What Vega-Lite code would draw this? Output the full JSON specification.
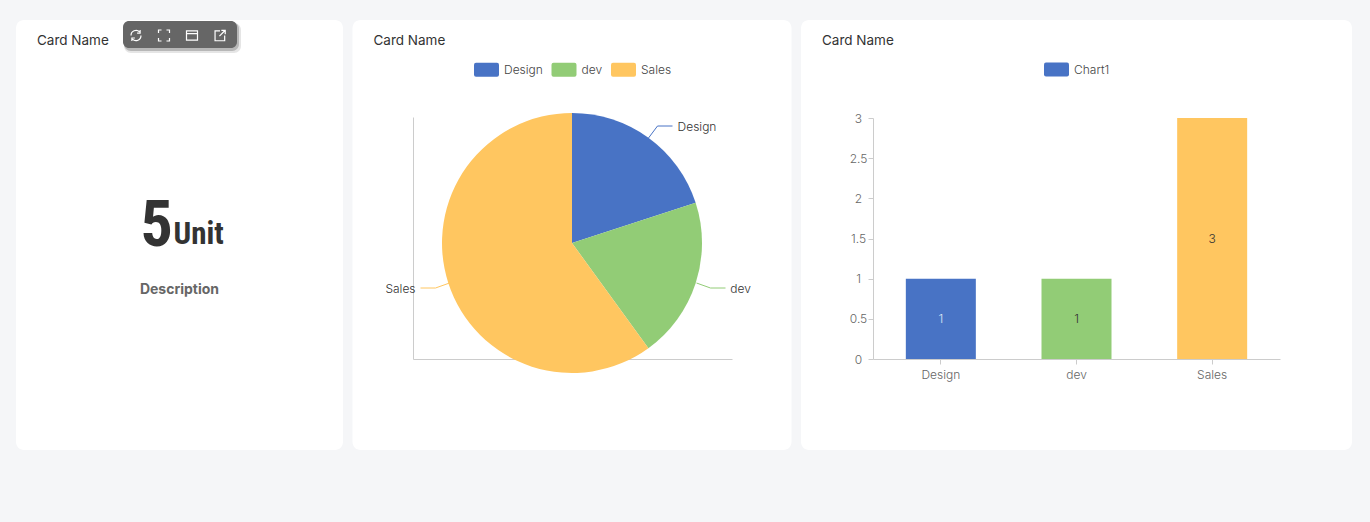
{
  "$schema": "https://vega.github.io/schema/vega-lite/v6.json",
  "description": "Dashboard of three cards: a unit count, a pie and a bar chart of the same teams.",
  "background": "#f5f6f8",
  "padding": {"left": 16, "top": 20, "right": 18, "bottom": 72},
  "spacing": 9.5,
  "resolve": {"scale": {"color": "independent"}, "legend": {"color": "independent"}},
  "config": {
    "view": {"fill": "white", "stroke": null, "cornerRadius": 8},
    "font": "Inter",
    "title": {"font": "Inter", "fontSize": 13.5, "fontWeight": "normal", "color": "#333333", "anchor": "start", "dx": 21, "dy": 31.5},
    "legend": {"labelFont": "Inter", "labelFontSize": 12, "labelColor": "#444444", "labelFontWeight": 300}
  },
  "datasets": {
    "teams": [
      {"team": "Design", "count": 1, "rank": 1},
      {"team": "dev", "count": 1, "rank": 2},
      {"team": "Sales", "count": 3, "rank": 3}
    ],
    "leaders": [
      {"team": "Design", "across": 235.5, "up": 221},
      {"team": "Design", "across": 244.5, "up": 233},
      {"team": "Design", "across": 259.5, "up": 233},
      {"team": "dev", "across": 283.5, "up": 76},
      {"team": "dev", "across": 297.5, "up": 71},
      {"team": "dev", "across": 312.5, "up": 71},
      {"team": "Sales", "across": 7.5, "up": 71},
      {"team": "Sales", "across": 22.5, "up": 71},
      {"team": "Sales", "across": 36.5, "up": 76}
    ],
    "leaderLabels": [
      {"team": "Design", "across": 284, "up": 232},
      {"team": "dev", "across": 327.5, "up": 70},
      {"team": "Sales", "across": -12.5, "up": 70}
    ],
    "tools": [
      {"tool": "refresh"},
      {"tool": "fullscreen"},
      {"tool": "window"},
      {"tool": "open"}
    ]
  },
  "hconcat": [
    {
      "title": "Card Name",
      "width": 327,
      "height": 430,
      "resolve": {"scale": {"x": "independent", "y": "independent"}},
      "layer": [
        {
          "data": {"values": [{"total": 5, "unit": "Unit", "description": "Description"}]},
          "layer": [
            {
              "mark": {"type": "text", "font": "Roboto Condensed, DejaVu Sans Condensed, Roboto, sans-serif", "fontWeight": "bold", "fontSize": 64, "color": "#333333", "align": "left", "dx": -39, "dy": 11, "baseline": "alphabetic"},
              "encoding": {"text": {"field": "total", "type": "quantitative"}}
            },
            {
              "mark": {"type": "text", "font": "Roboto Condensed, DejaVu Sans Condensed, Roboto, sans-serif", "fontWeight": "bold", "fontSize": 31, "color": "#333333", "align": "left", "dx": -6, "dy": 9, "baseline": "alphabetic"},
              "encoding": {"text": {"field": "unit"}}
            },
            {
              "mark": {"type": "text", "font": "Inter", "fontWeight": "bold", "fontSize": 14, "color": "#666666", "dy": 55},
              "encoding": {"text": {"field": "description"}}
            }
          ]
        },
        {
          "data": {"values": [{"part": "toolbar"}]},
          "mark": {"type": "rect", "color": "#000000", "opacity": 0.1, "cornerRadius": 7},
          "encoding": {
            "x": {"field": "part", "axis": null, "scale": {"range": [108, 225], "paddingInner": 0, "paddingOuter": 0}},
            "y": {"field": "part", "axis": null, "scale": {"range": [3, 33], "paddingInner": 0, "paddingOuter": 0}}
          }
        },
        {
          "data": {"values": [{"part": "toolbar"}]},
          "mark": {"type": "rect", "color": "#000000", "opacity": 0.2, "cornerRadius": 7},
          "encoding": {
            "x": {"field": "part", "axis": null, "scale": {"range": [108, 223], "paddingInner": 0, "paddingOuter": 0}},
            "y": {"field": "part", "axis": null, "scale": {"range": [2, 31], "paddingInner": 0, "paddingOuter": 0}}
          }
        },
        {
          "data": {"values": [{"part": "toolbar"}]},
          "mark": {"type": "rect", "color": "#666666", "cornerRadius": 6},
          "encoding": {
            "x": {"field": "part", "axis": null, "scale": {"range": [107, 221], "paddingInner": 0, "paddingOuter": 0}},
            "y": {"field": "part", "axis": null, "scale": {"range": [1, 28], "paddingInner": 0, "paddingOuter": 0}}
          }
        },
        {
          "data": {"name": "tools"},
          "mark": {"type": "point", "filled": false, "color": "white", "strokeWidth": 1.2, "size": 121, "opacity": 1},
          "encoding": {
            "x": {"field": "tool", "sort": null, "axis": null, "scale": {"range": [106, 218], "paddingInner": 0, "paddingOuter": 0}},
            "y": {"field": "tool", "type": "nominal", "axis": null, "scale": {"domain": ["refresh", "fullscreen", "window", "open"], "range": [15.5, 15.5]}},
            "shape": {
              "field": "tool",
              "legend": null,
              "scale": {
                "domain": ["refresh", "fullscreen", "window", "open"],
                "range": [
                  "M-0.9,0A0.9,0.9 0 0 1 0.65,-0.65M0.9,0A0.9,0.9 0 0 1 -0.65,0.65M0.75,-1V-0.45H0.2M-0.75,1V0.45H-0.2",
                  "M-1,-0.45V-1H-0.45M0.45,-1H1V-0.45M1,0.45V1H0.45M-0.45,1H-1V0.45",
                  "M-1,-0.85H1V0.85H-1ZM-1,-0.35H1",
                  "M0,-0.85H-0.9V0.95H0.85V0M-0.1,0.1L0.95,-0.95M0.25,-0.95H0.95V-0.25"
                ]
              }
            }
          }
        }
      ]
    },
    {
      "title": "Card Name",
      "width": 439,
      "height": 430,
      "layer": [
        {
          "data": {"name": "teams"},
          "mark": {"type": "arc", "radius": 130, "yOffset": 8},
          "encoding": {
            "theta": {"field": "count", "type": "quantitative", "stack": true},
            "order": {"field": "rank", "sort": "ascending"},
            "color": {
              "field": "team",
              "title": null,
              "scale": {"domain": ["Design", "dev", "Sales"], "range": ["#4873c5", "#92cc76", "#ffc660"]},
              "legend": {"orient": "none", "legendX": 121.5, "legendY": 37, "direction": "horizontal", "columns": 3, "symbolType": "M-0.84,-0.56H0.84Q1,-0.56 1,-0.4V0.4Q1,0.56 0.84,0.56H-0.84Q-1,0.56 -1,0.4V-0.4Q-1,-0.56 -0.84,-0.56Z", "symbolSize": 625, "symbolStrokeWidth": 0, "labelOffset": 5, "columnPadding": 8.5}
            }
          }
        },
        {
          "data": {"name": "leaders"},
          "mark": {"type": "line", "strokeWidth": 1},
          "encoding": {
            "x": {"field": "across", "type": "quantitative", "title": null, "scale": {"domain": [0, 319], "range": [60.5, 379.5], "nice": false}, "axis": {"labels": false, "ticks": false, "grid": false, "domainColor": "#cccccc", "offset": -91}},
            "y": {"field": "up", "type": "quantitative", "title": null, "scale": {"domain": [0, 242], "range": [339, 97], "nice": false}, "axis": {"labels": false, "ticks": false, "grid": false, "domainColor": "#cccccc", "offset": -60.5}},
            "color": {"field": "team"}
          }
        },
        {
          "data": {"name": "leaderLabels"},
          "mark": {"type": "text", "font": "Inter", "fontSize": 12, "fontWeight": 300, "color": "#333333"},
          "encoding": {
            "x": {"field": "across", "type": "quantitative"},
            "y": {"field": "up", "type": "quantitative"},
            "text": {"field": "team"}
          }
        }
      ]
    },
    {
      "title": "Card Name",
      "width": 551,
      "height": 430,
      "data": {"name": "teams"},
      "resolve": {"scale": {"y": "independent"}},
      "layer": [
        {
          "mark": {"type": "bar", "cornerRadius": 0},
          "encoding": {
            "x": {
              "field": "team",
              "sort": null,
              "title": null,
              "scale": {"range": [72, 479], "paddingInner": 0.484, "paddingOuter": 0.242},
              "axis": {"labelAngle": 0, "domainColor": "#cccccc", "tickColor": "#cccccc", "tickSize": 5, "labelPadding": 5, "labelFont": "Inter", "labelFontSize": 12, "labelFontWeight": 300, "labelColor": "#666666", "offset": -91}
            },
            "y": {
              "field": "count",
              "type": "quantitative",
              "title": null,
              "scale": {"domain": [0, 3], "range": [339, 98]},
              "axis": {"values": [0, 0.5, 1, 1.5, 2, 2.5, 3], "format": "~g", "grid": false, "domainColor": "#cccccc", "tickColor": "#cccccc", "tickSize": 5, "labelAlign": "center", "labelPadding": 10, "labelFont": "Inter", "labelFontSize": 12, "labelFontWeight": 300, "labelColor": "#666666", "offset": -72}
            },
            "color": {
              "field": "team",
              "title": null,
              "scale": {"domain": ["Design", "dev", "Sales"], "range": ["#4873c5", "#92cc76", "#ffc660"]},
              "legend": {"orient": "none", "legendX": 243, "legendY": 37, "values": ["Design"], "labelExpr": "'Chart1'", "symbolType": "M-0.84,-0.56H0.84Q1,-0.56 1,-0.4V0.4Q1,0.56 0.84,0.56H-0.84Q-1,0.56 -1,0.4V-0.4Q-1,-0.56 -0.84,-0.56Z", "symbolSize": 625, "symbolStrokeWidth": 0, "labelOffset": 5}
            }
          }
        },
        {
          "mark": {"type": "text", "font": "Inter", "fontSize": 12, "fontWeight": 300},
          "encoding": {
            "x": {"field": "team", "sort": null},
            "y": {"field": "count", "type": "quantitative", "axis": null, "scale": {"domain": [0, 6], "range": [339, 98]}},
            "text": {"field": "count", "type": "quantitative"},
            "color": {"condition": {"test": "datum.team === 'Design'", "value": "#dde5f5"}, "value": "#333333"}
          }
        }
      ]
    }
  ]
}
